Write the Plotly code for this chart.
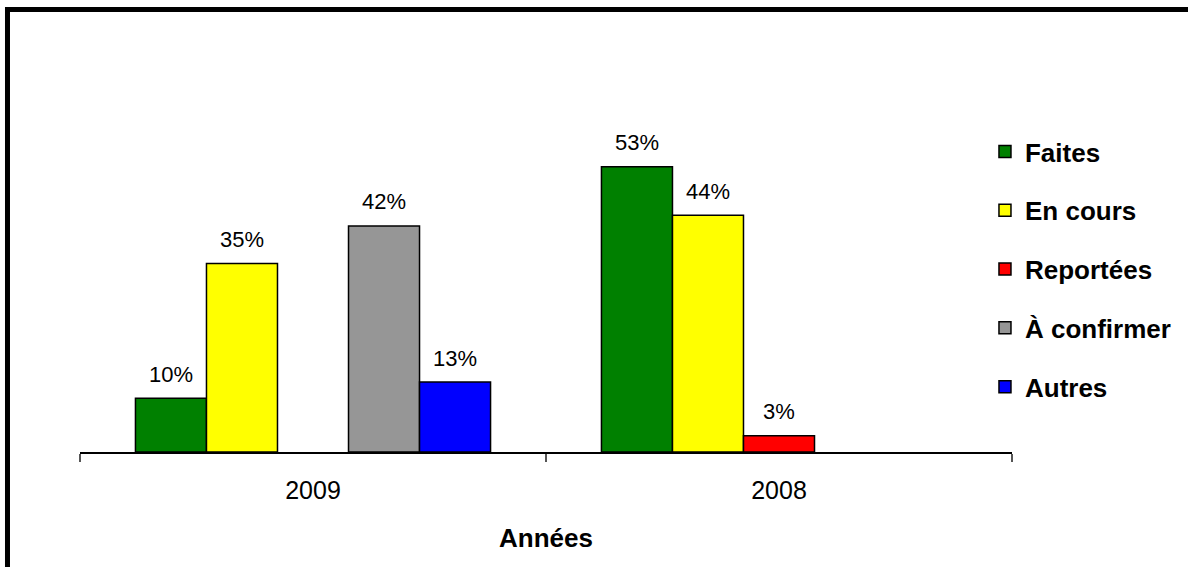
import plotly.graph_objects as go

# Categories (years) and series
years = ["2009", "2008"]
series_names = ["Faites", "En cours", "Reportées", "À confirmer", "Autres"]
faites = [10, 53]
en_cours = [35, 44]
reportees = [None, 3]
a_confirmer = [42, None]
autres = [13, None]
series_values = [faites, en_cours, reportees, a_confirmer, autres]
colors = ["#008000", "#FFFF00", "#FF0000", "#969696", "#0000FF"]

FONT = "Liberation Sans, Arial, sans-serif"
n = len(series_names)
gap = 0.238
slot = (1 - gap) / n

fig = go.Figure()
annotations = []
for i, (name, vals, col) in enumerate(zip(series_names, series_values, colors)):
    off = (i - n / 2) * slot
    fig.add_trace(go.Bar(
        x=years,
        y=vals,
        name=name,
        width=slot,
        offset=off,
        marker=dict(color=col, line=dict(color="black", width=1.5)),
        legendgroup=name,
        hoverinfo="skip",
    ))
    for g, v in enumerate(vals):
        if v is None:
            continue
        annotations.append(dict(
            x=g + off + slot / 2, y=v, xref="x", yref="y",
            text=f"{v}%", showarrow=False, yanchor="middle", yshift=24,
            font=dict(family=FONT, size=22, color="black"),
        ))

annotations.append(dict(
    x=0.5, y=-0.265, xref="paper", yref="paper", text="<b>Années</b>",
    showarrow=False, yanchor="middle",
    font=dict(family=FONT, size=26, color="black"),
))

fig.update_layout(
    width=1188, height=567,
    margin=dict(l=80, r=176, t=129, b=115),
    paper_bgcolor="white", plot_bgcolor="white",
    barmode="overlay",
    showlegend=True,
    legend=dict(
        x=0.971, xanchor="left", y=1.003, yanchor="top",
        font=dict(family=FONT, size=26, color="black", weight="bold"),
        tracegroupgap=22, traceorder="grouped",
        bgcolor="rgba(0,0,0,0)",
    ),
    annotations=annotations,
    shapes=[dict(
        type="rect", xref="paper", yref="paper",
        x0=-0.0778, x1=1.2, y0=-0.4, y1=1.37,
        line=dict(color="black", width=5), fillcolor="rgba(0,0,0,0)",
        layer="below",
    )],
)
fig.update_xaxes(
    type="category", range=[-0.5, 1.5],
    showline=True, linecolor="black", linewidth=1.5,
    ticks="outside", tickson="boundaries", ticklen=8, tickcolor="#555555", tickwidth=1.5,
    ticklabelstandoff=15,
    tickfont=dict(family=FONT, size=25, color="black"),
    showgrid=False, zeroline=False,
)
fig.update_yaxes(
    range=[0, 60], visible=False, showgrid=False, zeroline=False,
)

fig.write_html("out.html")
